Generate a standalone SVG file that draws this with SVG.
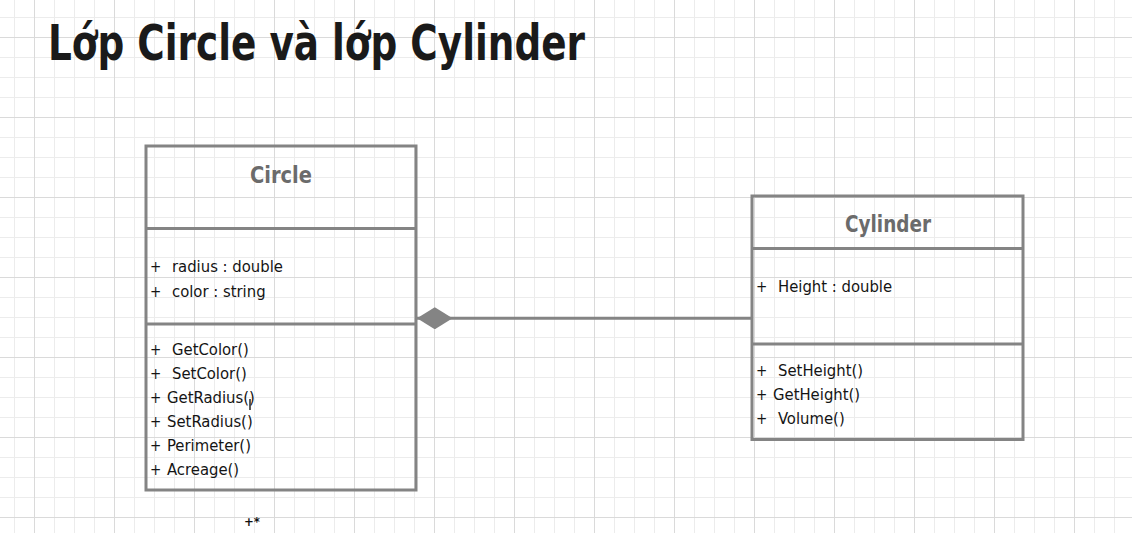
<svg xmlns="http://www.w3.org/2000/svg" width="1132" height="533" viewBox="0 0 1132 533">
  <style>
    .t { font-family: "DejaVu Sans Condensed", "DejaVu Sans", sans-serif; font-stretch: condensed; }
    .title { font-size: 50px; font-weight: bold; fill: #1a1a1a; }
    .cls { font-size: 23px; font-weight: bold; fill: #6b6b6b; text-anchor: middle; }
    .m { font-size: 16.5px; fill: #141414; }
    .p { font-size: 15px; fill: #141414; }
    .box { fill: none; stroke: #848484; stroke-width: 3; }
    .div { stroke: #848484; stroke-width: 3; }
    .conn { stroke: #848484; stroke-width: 3; fill: none; }
  </style>
  <defs>
    <pattern id="grid" patternUnits="userSpaceOnUse" x="14" y="17" width="80" height="80">
      <rect x="0" y="0" width="80" height="80" fill="#ffffff"/>
      <rect x="0" y="0" width="1" height="80" fill="#ececec"/>
      <rect x="40" y="0" width="1" height="80" fill="#ececec"/>
      <rect x="60" y="0" width="1" height="80" fill="#ececec"/>
      <rect x="0" y="0" width="80" height="1" fill="#ececec"/>
      <rect x="0" y="40" width="80" height="1" fill="#ececec"/>
      <rect x="0" y="60" width="80" height="1" fill="#ececec"/>
      <rect x="20" y="0" width="1" height="80" fill="#dadada"/>
      <rect x="0" y="20" width="80" height="1" fill="#dadada"/>
    </pattern>
    <marker id="diamond" markerUnits="userSpaceOnUse" viewBox="0 0 36 22" refX="0" refY="11" markerWidth="36" markerHeight="22" orient="auto">
      <path d="M0,11 L17.8,0 L35.6,11 L17.8,22 Z" fill="#848484"/>
    </marker>
  </defs>

  <rect x="0" y="0" width="1132" height="533" fill="url(#grid)"/>

  <text class="t title" x="48" y="60" textLength="537" lengthAdjust="spacingAndGlyphs">Lớp Circle và lớp Cylinder</text>

  <g id="connectors">
    <path class="conn" d="M417,318.3 L752,318.3" marker-start="url(#diamond)"/>
  </g>

  <g id="circle">
    <rect class="box" x="146" y="146" width="270" height="344"/>
    <line class="div" x1="146" y1="228.5" x2="416" y2="228.5"/>
    <line class="div" x1="146" y1="324" x2="416" y2="324"/>
    <text class="t cls" x="281" y="183" textLength="62" lengthAdjust="spacingAndGlyphs">Circle</text>
    <text class="t m" y="272"><tspan class="p" x="150">+</tspan><tspan x="172">radius : double</tspan></text>
    <text class="t m" y="297"><tspan class="p" x="150">+</tspan><tspan x="172">color : string</tspan></text>
    <text class="t m" y="355"><tspan class="p" x="150">+</tspan><tspan x="172">GetColor()</tspan></text>
    <text class="t m" y="379"><tspan class="p" x="150">+</tspan><tspan x="172">SetColor()</tspan></text>
    <text class="t m" y="403"><tspan class="p" x="150">+</tspan><tspan x="167">GetRadius()</tspan></text>
    <text class="t m" y="427"><tspan class="p" x="150">+</tspan><tspan x="167">SetRadius()</tspan></text>
    <text class="t m" y="451"><tspan class="p" x="150">+</tspan><tspan x="167">Perimeter()</tspan></text>
    <text class="t m" y="475"><tspan class="p" x="150">+</tspan><tspan x="167">Acreage()</tspan></text>
    <line x1="250" y1="399" x2="250" y2="410" stroke="#222" stroke-width="1.5"/>
  </g>

  <g id="cylinder">
    <rect class="box" x="752" y="196" width="271" height="243.5"/>
    <line class="div" x1="752" y1="248.5" x2="1023" y2="248.5"/>
    <line class="div" x1="752" y1="344" x2="1023" y2="344"/>
    <text class="t cls" x="888" y="232" textLength="86" lengthAdjust="spacingAndGlyphs">Cylinder</text>
    <text class="t m" y="292"><tspan class="p" x="756">+</tspan><tspan x="778">Height : double</tspan></text>
    <text class="t m" y="376"><tspan class="p" x="756">+</tspan><tspan x="778">SetHeight()</tspan></text>
    <text class="t m" y="400"><tspan class="p" x="756">+</tspan><tspan x="773">GetHeight()</tspan></text>
    <text class="t m" y="424"><tspan class="p" x="756">+</tspan><tspan x="778">Volume()</tspan></text>
  </g>

  <text class="t" x="244" y="526" font-size="13" font-weight="bold" fill="#111">+*</text>
</svg>
